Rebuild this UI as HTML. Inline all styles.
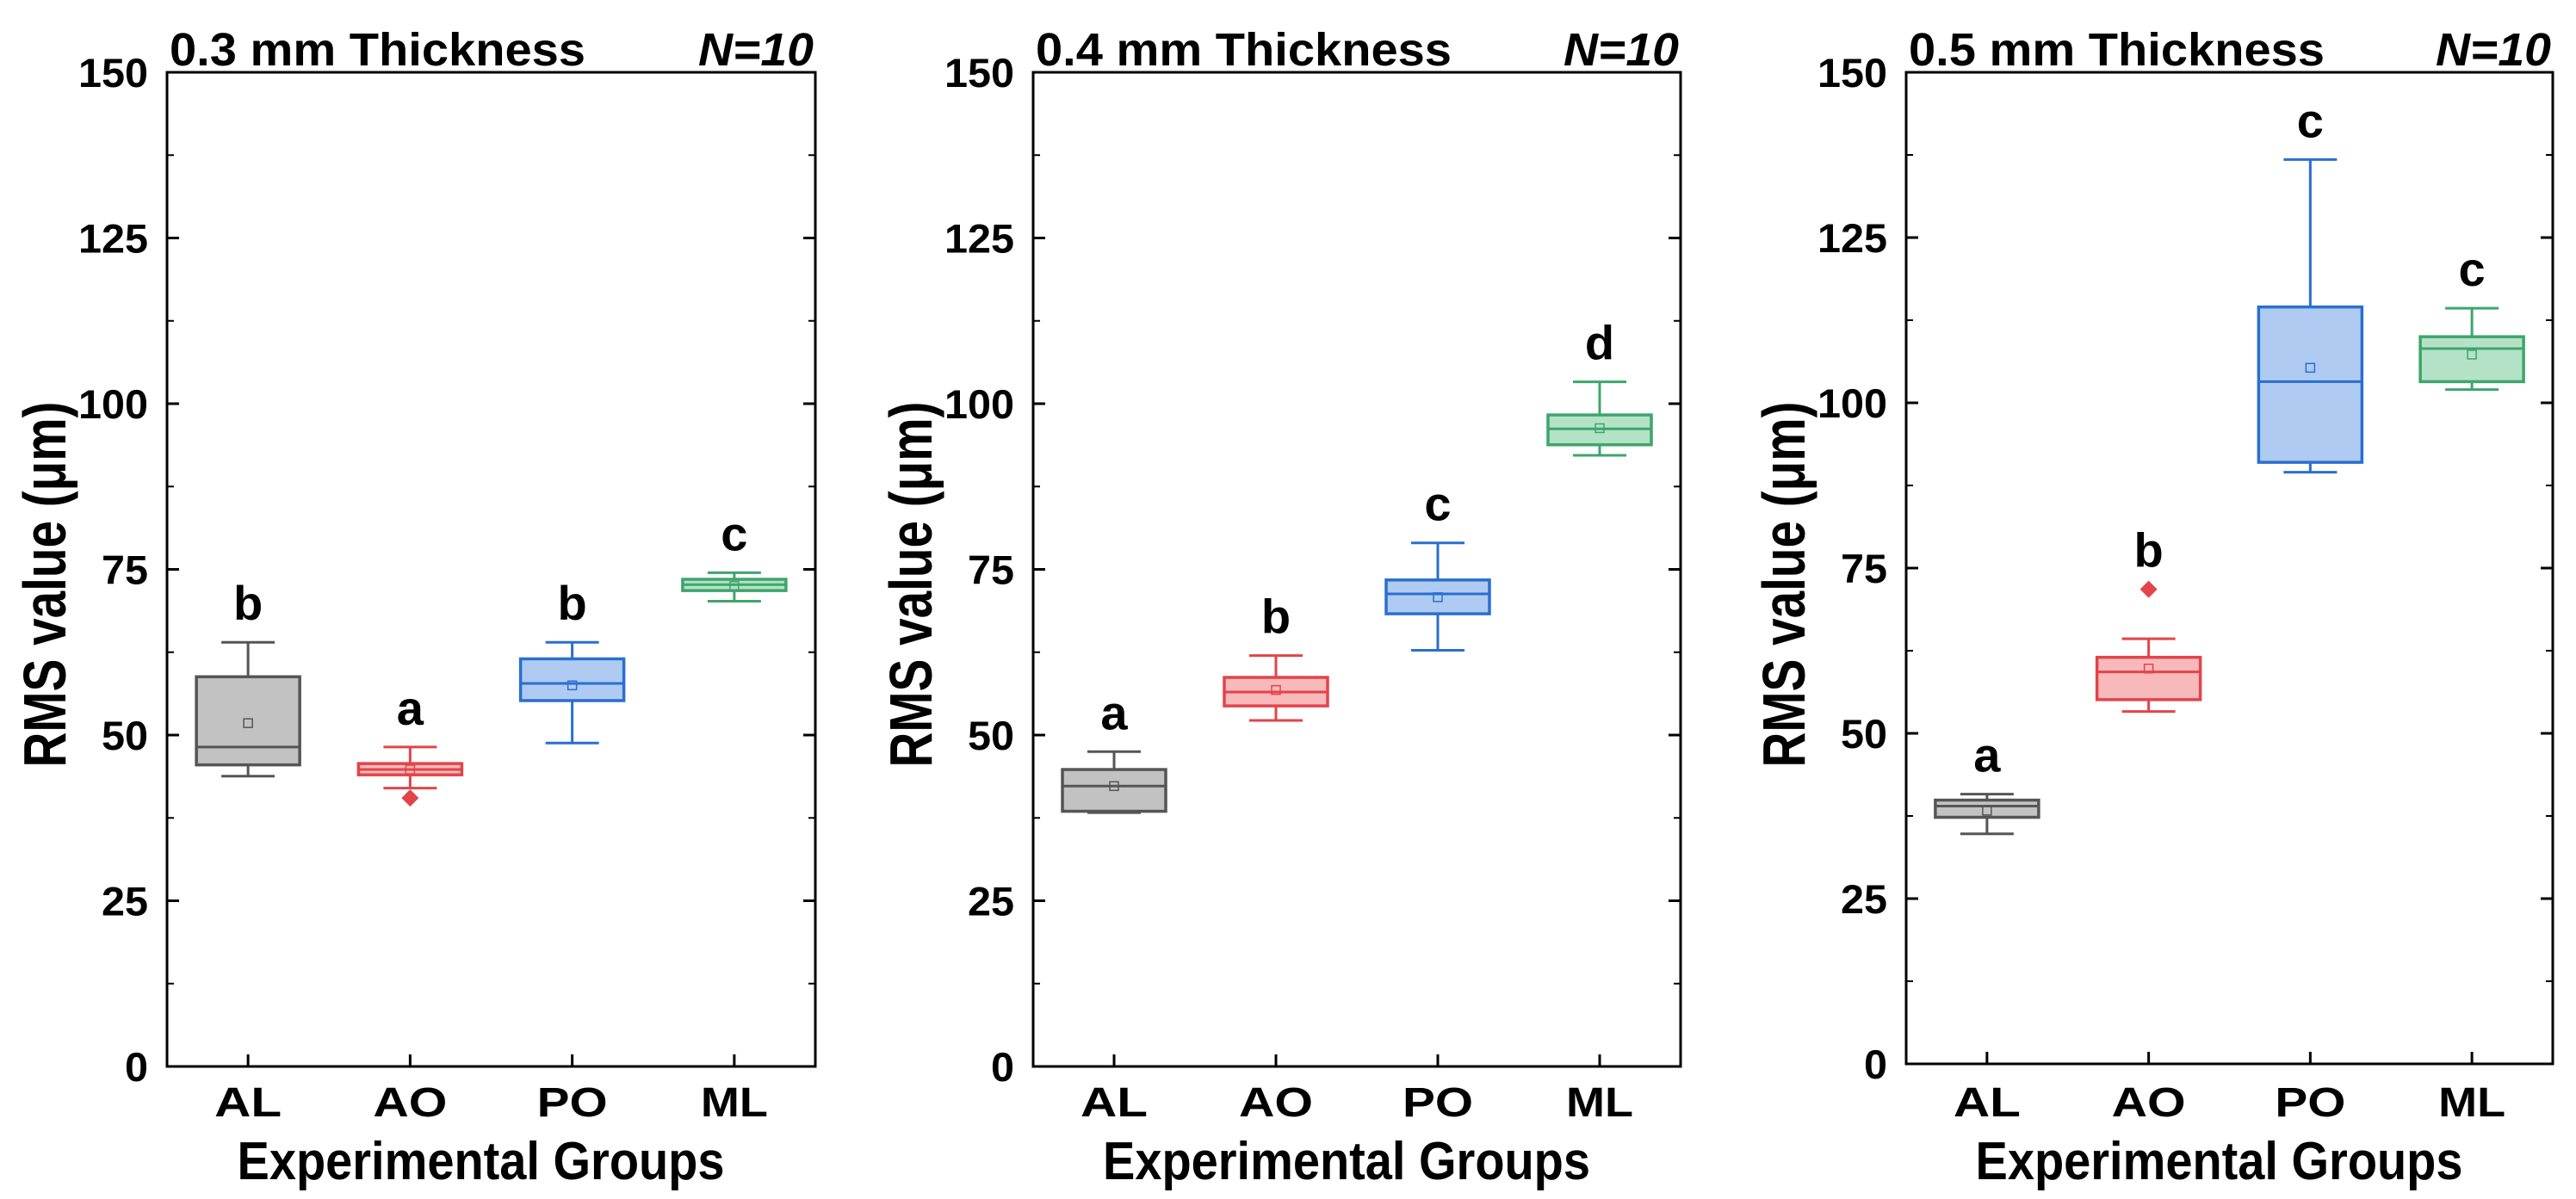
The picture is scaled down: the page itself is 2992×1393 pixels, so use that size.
<!DOCTYPE html>
<html><head><meta charset="utf-8">
<style>
html,body{margin:0;padding:0;background:#fff;}
svg{display:block;}
text{font-family:"Liberation Sans",Arial,sans-serif;font-weight:bold;fill:#000;}
</style></head>
<body>
<svg id="chart" width="2992" height="1393" viewBox="0 0 2992 1393" xmlns="http://www.w3.org/2000/svg"></svg>
<script>
const categories = ["AL","AO","PO","ML"];
const panelTitles = ["0.3 mm Thickness","0.4 mm Thickness","0.5 mm Thickness"];
const yTicks = [0,25,50,75,100,125,150];
const yMinorTicks = [12.5,37.5,62.5,87.5,112.5,137.5];
// per panel per category: [lowWhisker, Q1, median, Q3, highWhisker]
const p1Stats = [[43.8,45.5,48.2,58.8,64.0],[42.0,44.0,44.8,45.7,48.2],[48.8,55.2,57.8,61.5,64.0],[70.2,71.8,72.7,73.5,74.5]];
const p2Stats = [[38.3,38.5,42.3,44.8,47.5],[52.2,54.4,56.5,58.7,62.0],[62.8,68.3,71.3,73.4,79.0],[92.2,93.8,96.2,98.3,103.3]];
const p3Stats = [[34.8,37.3,39.0,39.9,40.8],[53.3,55.1,59.3,61.5,64.3],[89.5,91.0,103.2,114.5,136.8],[102.0,103.2,108.2,110.0,114.3]];
const p1Means = [51.8,44.8,57.5,72.5];
const p2Means = [42.3,56.8,70.8,96.3];
const p3Means = [38.3,59.8,105.3,107.3];
const p1Outliers = [null,40.5,null,null];
const p2Outliers = [null,null,null,null];
const p3Outliers = [null,71.8,null,null];
const p1Letters = ["b","a","b","c"];
const p2Letters = ["a","b","c","d"];
const p3Letters = ["a","b","c","c"];

const stats=[p1Stats,p2Stats,p3Stats], means=[p1Means,p2Means,p3Means],
      outs=[p1Outliers,p2Outliers,p3Outliers], letters=[p1Letters,p2Letters,p3Letters];
const panels=[{l:194,r:947,t:84,b:1239},{l:1200,r:1952,t:84,b:1239},{l:2214,r:2965,t:84,b:1236}];
const fills=["#c2c2c2","#f7b9ba","#afcbf1","#b4e2c7"];
const strokes=["#555555","#e2444a","#2a6fd0","#3ea56c"];
const catWidths={AL:78,AO:86,PO:82,ML:78};
const NS="http://www.w3.org/2000/svg";
const svg=document.getElementById('chart');
function mk(tag,attrs,parent,txt){const e=document.createElementNS(NS,tag);for(const k in attrs)e.setAttribute(k,attrs[k]);if(txt!==undefined)e.textContent=txt;(parent||svg).appendChild(e);return e;}

panels.forEach((P,pi)=>{
  const g=mk('g',{});
  
  
  const y=v=>P.b-(v/150)*(P.b-P.t);
  const x=i=>P.l+(i+0.5)*(P.r-P.l)/4;
  yTicks.forEach(v=>{
    const t=mk('line',{x1:P.l,x2:P.l+14,y1:y(v),y2:y(v),stroke:'#000','stroke-width':3},g);
    
    mk('line',{x1:P.r,x2:P.r-14,y1:y(v),y2:y(v),stroke:'#000','stroke-width':3},g);
    const s=String(v);
    const lb=mk('text',{x:P.l-22,y:y(v)+17,'text-anchor':'end','font-size':47,textLength:27*s.length,lengthAdjust:'spacingAndGlyphs'},g,s);
    
  });
  yMinorTicks.forEach(v=>{
    mk('line',{x1:P.l,x2:P.l+8,y1:y(v),y2:y(v),stroke:'#000','stroke-width':2},g);
    mk('line',{x1:P.r,x2:P.r-8,y1:y(v),y2:y(v),stroke:'#000','stroke-width':2},g);
  });
  categories.forEach((c,i)=>{
    mk('line',{x1:x(i),x2:x(i),y1:P.b,y2:P.b-14,stroke:'#000','stroke-width':3},g);
    const cl=mk('text',{x:x(i),y:1297,'text-anchor':'middle','font-size':48,textLength:catWidths[c],lengthAdjust:'spacingAndGlyphs'},g,c);
    
  });
  categories.forEach((c,i)=>{
    const s=stats[pi][i], cx=x(i), hw=60, cw=31;
    const bg=mk('g',{},g);
    
    
    mk('line',{x1:cx,x2:cx,y1:y(s[0]),y2:y(s[4]),stroke:strokes[i],'stroke-width':3},bg);
    mk('line',{x1:cx-cw,x2:cx+cw,y1:y(s[0]),y2:y(s[0]),stroke:strokes[i],'stroke-width':3},bg);
    mk('line',{x1:cx-cw,x2:cx+cw,y1:y(s[4]),y2:y(s[4]),stroke:strokes[i],'stroke-width':3},bg);
    mk('rect',{x:cx-hw,y:y(s[3]),width:2*hw,height:y(s[1])-y(s[3]),fill:fills[i],stroke:strokes[i],'stroke-width':3.5},bg);
    mk('line',{x1:cx-hw,x2:cx+hw,y1:y(s[2]),y2:y(s[2]),stroke:strokes[i],'stroke-width':3},bg);
    const m=means[pi][i];
    mk('rect',{x:cx-5,y:y(m)-5,width:10,height:10,fill:'none',stroke:strokes[i],'stroke-width':1.5},bg);
    const o=outs[pi][i];
    let topV=s[4];
    if(o!==null){
      const oy=y(o);
      mk('path',{d:`M${cx} ${oy-10}L${cx+10} ${oy}L${cx} ${oy+10}L${cx-10} ${oy}Z`,fill:strokes[i]},bg);
      if(o>topV) topV=o;
    }
    const lt=mk('text',{x:cx,y:y(topV)-26,'text-anchor':'middle','font-size':56},g,letters[pi][i]);
    
  });
  const fr=mk('rect',{x:P.l,y:P.t,width:P.r-P.l,height:P.b-P.t,fill:'none',stroke:'#000','stroke-width':3},g);
  
  const tt=mk('text',{x:P.l+3,y:76,'font-size':54,textLength:483,lengthAdjust:'spacingAndGlyphs'},g,panelTitles[pi]);
  
  const nt=mk('text',{x:P.r-136,y:76,'font-size':54,'font-style':'italic',textLength:134,lengthAdjust:'spacingAndGlyphs'},g,'N=10');
  
  const yt=mk('text',{x:0,y:0,'text-anchor':'middle','font-size':70,textLength:425,lengthAdjust:'spacingAndGlyphs',transform:`translate(${P.l-118},679) rotate(-90)`},g,'RMS value (μm)');
  
  const xt=mk('text',{x:(P.l+P.r)/2-12,y:1370,'text-anchor':'middle','font-size':62,textLength:566,lengthAdjust:'spacingAndGlyphs'},g,'Experimental Groups');
  
});
</script>
</body></html>
